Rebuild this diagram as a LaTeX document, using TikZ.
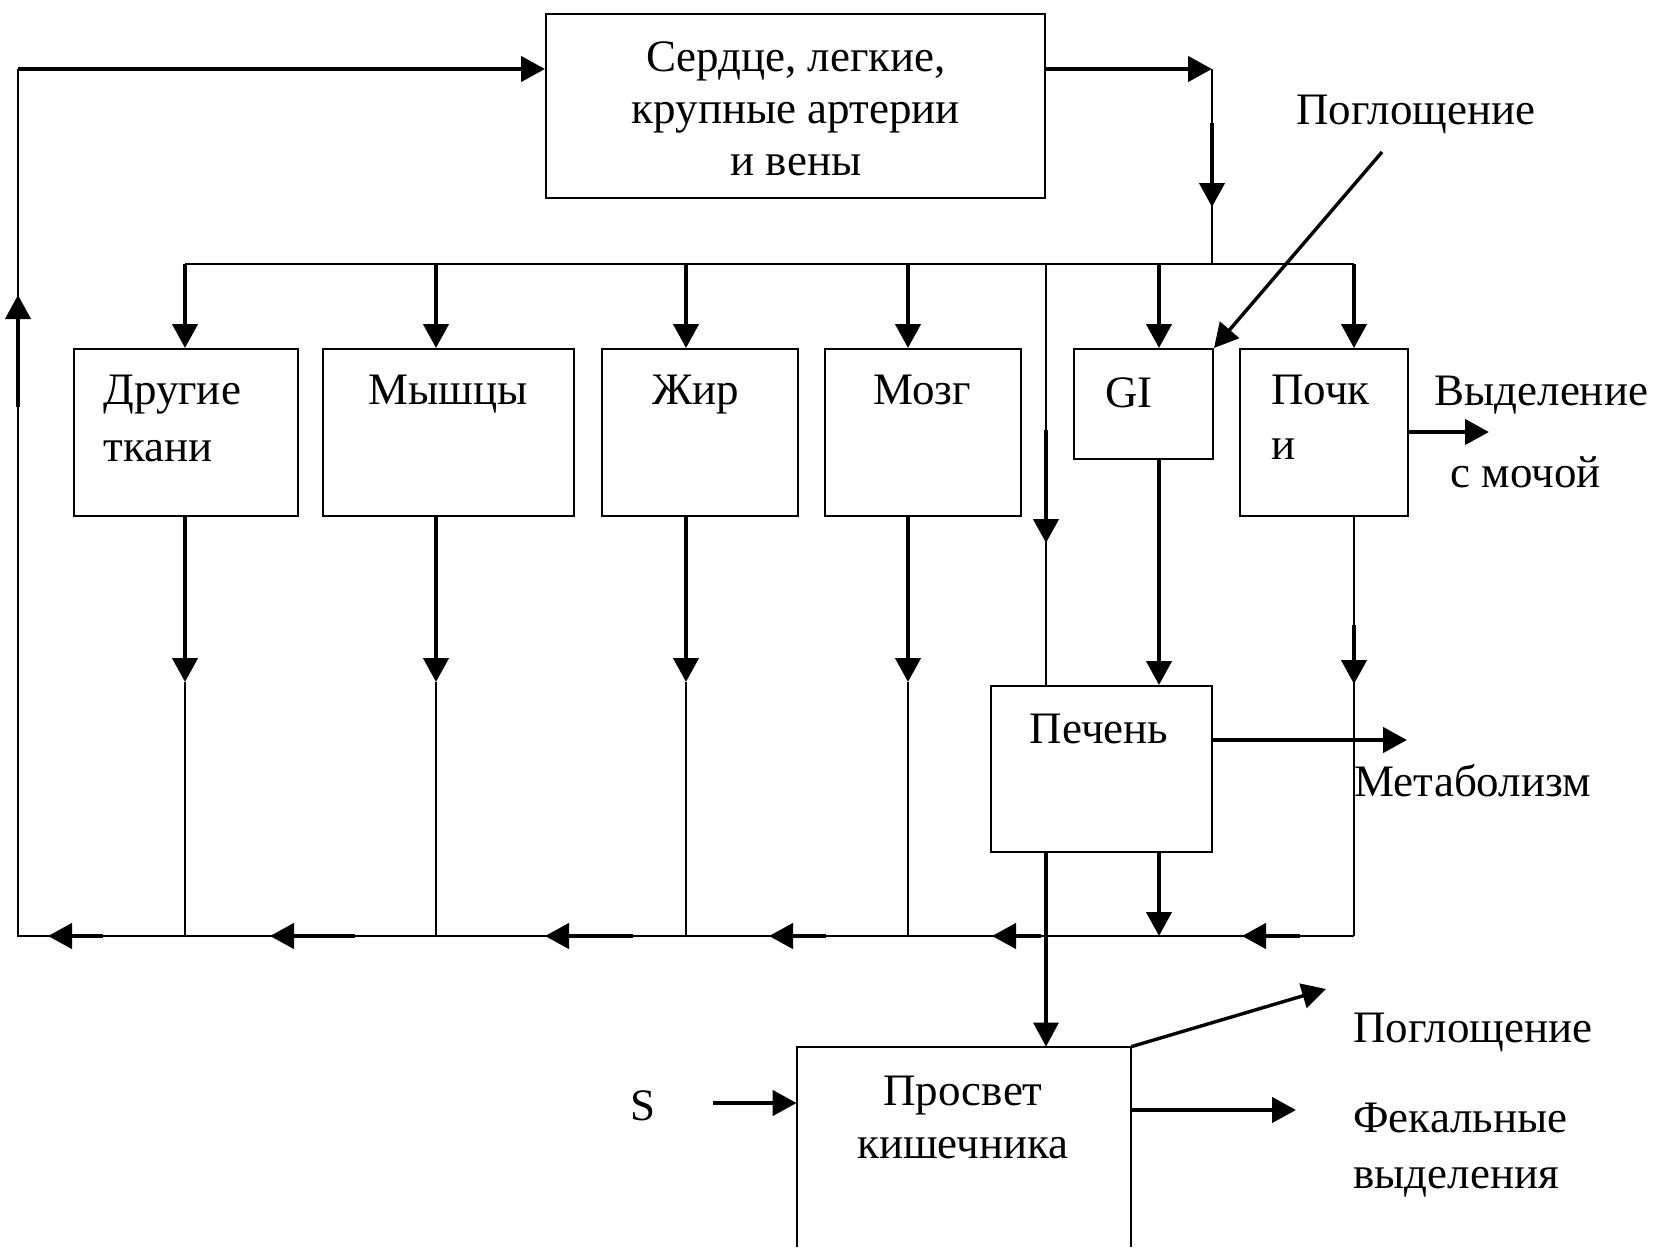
\documentclass[tikz,border=0pt]{standalone}
\usepackage{fontspec}
\setmainfont{Liberation Serif}
\usetikzlibrary{arrows.meta}
\newcommand{\mlines}[3]{{\fontsize{22.5}{#1}\selectfont\begin{tabular}[t]{@{}#2@{}}#3\end{tabular}}}
\begin{document}
\begin{tikzpicture}[x=0.5pt,y=-0.5pt,
  box/.style={draw, line width=1pt, inner sep=0pt},
  thinln/.style={line width=0.9pt},
  thickln/.style={line width=2.2pt},
  midln/.style={line width=1.7pt},
  arr/.style={-{Triangle[length=12pt,width=12.5pt]}},
  txt/.style={inner sep=0pt, font=\fontsize{22.5}{27}\selectfont},
]
\useasboundingbox (0,0) rectangle (1659,1247);

% boxes
\node[box, minimum width=249.5pt, minimum height=92pt] (heart) at (795.5,106) {};
\node[box, minimum width=112pt, minimum height=83.5pt] (other) at (186,432.5) {};
\node[box, minimum width=125.5pt, minimum height=83.5pt] (muscle) at (448.5,432.5) {};
\node[box, minimum width=98pt, minimum height=83.5pt] (fat) at (700,432.5) {};
\node[box, minimum width=98pt, minimum height=83.5pt] (brain) at (923,432.5) {};
\node[box, minimum width=69.5pt, minimum height=55pt] (gi) at (1143.5,404) {};
\node[box, minimum width=84pt, minimum height=83.5pt] (kidney) at (1324,432.5) {};
\node[box, minimum width=110.5pt, minimum height=83pt] (liver) at (1101.5,769) {};
\node[inner sep=0pt, minimum width=167pt, minimum height=100pt] (lumen) at (964,1147) {};
\draw[line width=1pt] (lumen.south west) -- (lumen.north west) -- (lumen.north east) -- (lumen.south east);

% labels
\node[txt, anchor=base] (heartlbl) at (796,72) {\mlines{26}{c}{Сердце, легкие,\\крупные артерии\\и вены}};
\node[txt, anchor=base west] (otherlbl) at (103,404) {\mlines{28.5}{l}{Другие\\ткани}};
\node[txt, anchor=base] (musclelbl) at (448,404) {Мышцы};
\node[txt, anchor=base] (fatlbl) at (696,404) {Жир};
\node[txt, anchor=base] (brainlbl) at (922,404) {Мозг};
\node[txt, anchor=base] (gilbl) at (1129,407) {GI};
\node[txt, anchor=base west] (kidneylbl) at (1271,404) {\mlines{27.5}{l}{Почк\\и}};
\node[txt, anchor=base west] (urine1) at (1434,405) {Выделение};
\node[txt, anchor=base west] (urine2) at (1450,487) {с мочой};
\node[txt, anchor=base west] (abstop) at (1296,125) {Поглощение};
\node[txt, anchor=base] (liverlbl) at (1099,743) {Печень};
\node[txt, anchor=base west] (metab) at (1354,796) {Метаболизм};
\node[txt, anchor=base] (slbl) at (643,1120) {S};
\node[txt, anchor=base] (lumenlbl) at (963,1105) {\mlines{26.5}{c}{Просвет\\кишечника}};
\node[txt, anchor=base west] (absbot) at (1353,1042) {Поглощение};
\node[txt, anchor=base west] (fecal) at (1353,1132) {\mlines{28}{l}{Фекальные\\выделения}};

% coordinates
\coordinate (tl) at (18,69);
\coordinate (cl) at (18,936);
\coordinate (cr) at (1354,936);
\coordinate (dl) at (185,264);
\coordinate (dr) at (1354,264);
\coordinate (jr) at (1212,69);
\coordinate (jd) at (1212,264);
\coordinate (upa) at (18,407);
\coordinate (upb) at (18,295);
\coordinate (rda) at (1212,123);
\coordinate (rdb) at (1212,207);
\coordinate (xo) at (185,0);
\coordinate (xm) at (436,0);
\coordinate (xf) at (686,0);
\coordinate (xb) at (908,0);
\coordinate (xg) at (1159,0);
\coordinate (xk) at (1354,0);
\coordinate (xv) at (1046,0);
\coordinate (lvl) at (0,682);
\coordinate (va) at (1046,430);
\coordinate (vb) at (1046,543);
\coordinate (ka) at (1354,625);
\coordinate (kb) at (1354,684);
\coordinate (ke) at (1489,432);
\coordinate (me) at (1407,740);
\coordinate (sa) at (713,1103);
\coordinate (fe) at (1296,1110);
\coordinate (ab) at (1326,989);
\coordinate (abs1) at (1382,152);

% left loop
\draw[thinln] (cr) -- (cl) -- (tl);
\draw[thickln, arr] (tl) -- (tl -| heart.west);
\draw[thickln, arr] (upa) -- (upb);

% heart to distribution
\draw[thickln, arr] (heart.east |- tl) -- (jr);
\draw[thinln] (jr) -- (jd);
\draw[thickln, arr] (rda) -- (rdb);

% distribution line
\draw[thinln] (dl) -- (dr);
\foreach \c/\n in {xo/other, xm/muscle, xf/fat, xb/brain, xg/gi, xk/kidney}
  \draw[thickln, arr] (\c |- dl) -- (\c |- \n.north);

% outflows of tissues
\foreach \c/\n in {xo/other, xm/muscle, xf/fat, xb/brain} {
  \draw[thickln, arr] (\c |- \n.south) -- (\c |- lvl);
  \draw[thinln] (\c |- lvl) -- (\c |- cl);
}

% hepatic artery
\draw[thinln] (xv |- dl) -- (xv |- liver.north);
\draw[thickln, arr] (va) -- (vb);

% GI to liver
\draw[thickln, arr] (xg |- gi.south) -- (xg |- liver.north);

% kidney
\draw[thinln] (xk |- kidney.south) -- (cr);
\draw[thickln, arr] (ka) -- (kb);
\draw[thickln, arr] (kidney.east |- ke) -- (ke);

% liver
\draw[thickln, arr] (liver.east |- me) -- (me);
\draw[thickln, arr] (xg |- liver.south) -- (xg |- cl);
\draw[midln, arr] (xv |- liver.south) -- (xv |- lumen.north);

% collector arrows
\foreach \a/\b in {103/48, 355/270, 633/545, 826/769, 1041/992, 1300/1242}
  \draw[thickln, arr] (\a,936) -- (\b,936);

% lumen
\draw[thickln, arr] (sa) -- (sa -| lumen.west);
\draw[thickln, arr] (lumen.east |- fe) -- (fe);
\draw[midln, arr] (lumen.north east) -- (ab);

% absorption into GI
\draw[midln, arr] (abs1) -- (gi.north east);
\end{tikzpicture}
\end{document}
